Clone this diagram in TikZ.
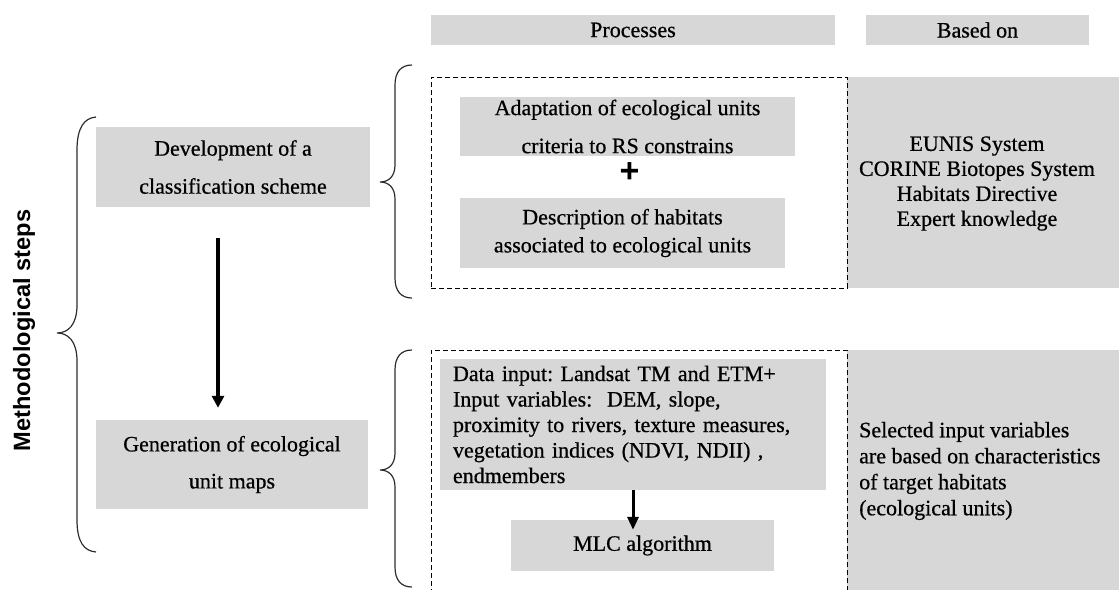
\documentclass[tikz,border=0pt]{standalone}
\usepackage{fontspec}
\setmainfont{Liberation Serif}[FakeBold=0.6]
\setsansfont{Liberation Sans}
\usetikzlibrary{arrows.meta}
\definecolor{boxgray}{RGB}{215,215,215}
\definecolor{bracec}{RGB}{45,45,45}
\tikzset{
  graybox/.style={fill=boxgray, draw=none, inner sep=0pt, align=center, font=\fontsize{22}{25}\selectfont},
  dashbox/.style={draw=black, dash pattern=on 5pt off 3pt, line width=1pt},
  bracepath/.style={draw=bracec, line width=1.2pt},
  arrA/.style={line width=3.5pt, -{Triangle[width=12pt,length=12pt]}},
  arrB/.style={line width=3pt, -{Triangle[width=11pt,length=13pt]}},
  plaintext/.style={inner sep=0pt, font=\fontsize{22}{25}\selectfont}
}
\begin{document}
\frenchspacing
\begin{tikzpicture}[x=1pt,y=-1pt]
\useasboundingbox (0,0) rectangle (1119,589);

% headers
\node[graybox, minimum width=404pt, minimum height=30pt] (proc) at (633,30) {Processes};
\node[graybox, minimum width=223pt, minimum height=30pt] (based) at (977.5,30) {Based on};

% right gray panels
\node[graybox, minimum width=272pt, minimum height=211pt] (rtop) at (983,182.5) {};
\node[graybox, minimum width=272pt, minimum height=240pt] (rbot) at (983,470) {};

% dashed frames
\node[dashbox, minimum width=416pt, minimum height=211pt, inner sep=0pt] (dtop) at (639,182.5) {};
\draw[dashbox] (431,594) -- (431,350) -- (847,350) -- (847,594);

% top processes
\node[graybox, minimum width=335pt, minimum height=59pt, font=\fontsize{22}{38}\selectfont] (adapt) at (627.5,126.5)
  {Adaptation of ecological units\\criteria to RS constrains};
\node[inner sep=0pt, font=\sffamily\bfseries\fontsize{34}{34}\selectfont] (plus) at (629.5,173) {+};
\node[graybox, minimum width=325pt, minimum height=70pt, font=\fontsize{22}{28}\selectfont] (desc) at (622.5,233)
  {Description of habitats\\associated to ecological units};

\node[plaintext, align=center] (rtoptxt) at (977,183.5)
  {EUNIS System\\CORINE Biotopes System\\Habitats Directive\\Expert knowledge};

% bottom processes
\node[graybox, minimum width=386pt, minimum height=131pt, text width=360pt, inner xsep=13pt, align=left,
      font=\fontsize{22}{25.5}\selectfont] (data) at (633,424.5)
  {Data input: Landsat TM and ETM+\\
   Input variables:\ \ DEM, slope,\\
   proximity to rivers, texture measures,\\
   vegetation indices (NDVI, NDII) ,\\
   endmembers};
\node[graybox, minimum width=263pt, minimum height=51pt] (mlc) at (642.5,545.5) {MLC algorithm};
\draw[arrB, shorten >=-10pt] (data.south) -- (data.south |- mlc.north);

\node[plaintext, align=left, anchor=west, font=\fontsize{22}{26}\selectfont] (rbottxt) at (859,471)
  {Selected input variables\\are based on characteristics\\of target habitats\\(ecological units)};

% left steps
\node[graybox, minimum width=274pt, minimum height=80pt, font=\fontsize{22}{38}\selectfont] (dev) at (233,167)
  {Development of a\\classification scheme};
\node[graybox, minimum width=272pt, minimum height=89pt, font=\fontsize{22}{37}\selectfont] (gen) at (232,464.5)
  {Generation of ecological\\unit maps};
\coordinate (a1) at (218,238);
\draw[arrA, shorten >=12pt] (a1) -- (a1 |- gen.north);

\node[inner sep=0pt, rotate=90, font=\sffamily\bfseries\fontsize{23.6}{24}\selectfont] (meth) at (24,330.5) {Methodological steps};

% braces
\draw[bracepath] (96,117) .. controls (84,118) and (77,128) .. (77,150) -- (77,305)
  .. controls (77,325) and (68,333) .. (57,333) .. controls (68,333) and (77,341) .. (77,361)
  -- (77,520) .. controls (77,542) and (84,551) .. (96,552);
\draw[bracepath] (412,65) .. controls (401,65) and (395,72) .. (395,85) -- (395,165)
  .. controls (395,176) and (389,182) .. (380,182) .. controls (389,182) and (395,188) .. (395,199)
  -- (395,278) .. controls (395,291) and (401,298) .. (412,298);
\draw[bracepath] (412,350) .. controls (401,350) and (395,357) .. (395,370) -- (395,453)
  .. controls (395,464) and (389,470) .. (380,470) .. controls (389,470) and (395,476) .. (395,487)
  -- (395,567) .. controls (395,580) and (401,587) .. (412,587);
\end{tikzpicture}
\end{document}
